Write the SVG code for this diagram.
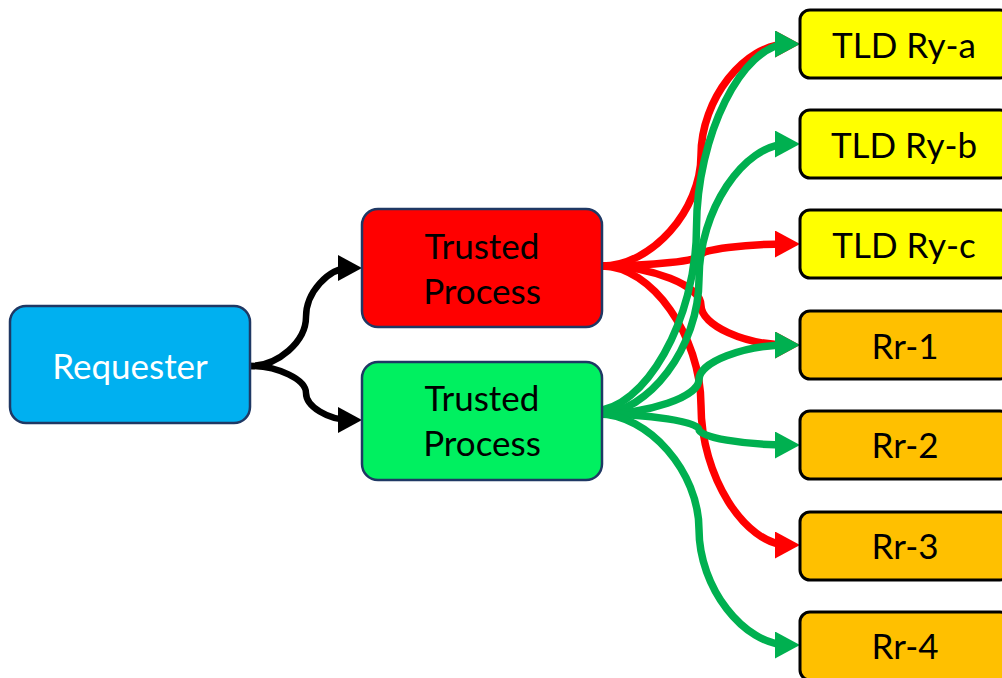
<svg xmlns="http://www.w3.org/2000/svg" width="1002" height="678" viewBox="0 0 1002 678">
  <style>
    .box { stroke-width: 2.5; }
    .proc { stroke: #1F3864; }
    .dest { stroke: #000000; stroke-width: 3; }
    .lbl { font-family: Lato, "Liberation Sans", sans-serif; font-size: 35px; text-anchor: middle; fill: #000000; }
    .wire { fill: none; stroke-linecap: butt; }
    .red { stroke: #FF0000; stroke-width: 7.5; }
    .green { stroke: #00B050; stroke-width: 7.5; }
    .black { stroke: #000000; stroke-width: 6.5; }
  </style>
  <defs>
    <marker id="arrow-red" markerUnits="userSpaceOnUse" viewBox="0 0 25 27" markerWidth="25" markerHeight="27" refX="13" refY="13.5" orient="auto">
      <path d="M0,0 L25,13.5 L0,27 z" fill="#FF0000"/>
    </marker>
    <marker id="arrow-green" markerUnits="userSpaceOnUse" viewBox="0 0 25 27" markerWidth="25" markerHeight="27" refX="13" refY="13.5" orient="auto">
      <path d="M0,0 L25,13.5 L0,27 z" fill="#00B050"/>
    </marker>
    <marker id="arrow-black" markerUnits="userSpaceOnUse" viewBox="0 0 24 26" markerWidth="24" markerHeight="26" refX="12" refY="13" orient="auto">
      <path d="M0,0 L24,13 L0,26 z" fill="#000000"/>
    </marker>
  </defs>

  <rect width="1002" height="678" fill="#FFFFFF"/>

  <!-- curved connectors -->
  <g id="connectors">
    <path class="wire black" marker-end="url(#arrow-black)" d="M250,366 C278,366 306,341.5 306,317 C306,292.5 328,268 350,268"/>
    <path class="wire black" marker-end="url(#arrow-black)" d="M250,366 C278,366 306,379.5 306,393 C306,406.5 328,420 350,420"/>

    <path class="wire red" marker-end="url(#arrow-red)" d="M602,266 C651.5,266 701,210.5 701,155 C701,99.5 744.5,44 788,44"/>
    <path class="wire red" marker-end="url(#arrow-red)" d="M602,266 C651.5,266 701,260.5 701,255 C701,249.5 744.5,244 788,244"/>
    <path class="wire red" marker-end="url(#arrow-red)" d="M602,266 C651.5,266 701,285.75 701,305.5 C701,325.25 744.5,345 788,345"/>
    <path class="wire red" marker-end="url(#arrow-red)" d="M602,266 C651.5,266 701,335.75 701,405.5 C701,475.25 744.5,545 788,545"/>

    <path class="wire green" marker-end="url(#arrow-green)" d="M593,411 C644.75,411 696.5,319.25 696.5,227.5 C696.5,135.75 742.25,44 788,44"/>
    <path class="wire green" marker-end="url(#arrow-green)" d="M598,414 C648.5,414 699,347.25 699,279 C699,210.75 743.5,144 788,144"/>
    <path class="wire green" marker-end="url(#arrow-green)" d="M598,414 C648.5,414 699,396.75 699,379.5 C699,362.25 743.5,345 788,345"/>
    <path class="wire green" marker-end="url(#arrow-green)" d="M598,414 C648.5,414 699,421.75 699,429.5 C699,437.25 743.5,445 788,445"/>
    <path class="wire green" marker-end="url(#arrow-green)" d="M598,414 C648.5,414 699,471.75 699,529.5 C699,587.25 743.5,645 788,645"/>
  </g>

  <g id="requester">
    <rect class="box proc" x="10" y="306" width="240" height="117" rx="16" fill="#00B0F0"/>
    <text class="lbl" x="130" y="379" style="fill:#FFFFFF">Requester</text>
  </g>

  <g id="trusted-red">
    <rect class="box proc" x="362" y="209" width="240" height="118" rx="16" fill="#FF0000"/>
    <text class="lbl" x="482" y="259">Trusted</text>
    <text class="lbl" x="482" y="304">Process</text>
  </g>

  <g id="trusted-green">
    <rect class="box proc" x="362" y="362" width="240" height="118" rx="16" fill="#00F060"/>
    <text class="lbl" x="482" y="411">Trusted</text>
    <text class="lbl" x="482" y="456">Process</text>
  </g>

  <g id="tld-ry-a">
    <rect class="box dest" x="800" y="10" width="210" height="68" rx="10" fill="#FFFF00"/>
    <text class="lbl" x="904" y="58">TLD Ry-a</text>
  </g>
  <g id="tld-ry-b">
    <rect class="box dest" x="800" y="110" width="210" height="68" rx="10" fill="#FFFF00"/>
    <text class="lbl" x="904" y="158">TLD Ry-b</text>
  </g>
  <g id="tld-ry-c">
    <rect class="box dest" x="800" y="210" width="210" height="68" rx="10" fill="#FFFF00"/>
    <text class="lbl" x="904" y="258">TLD Ry-c</text>
  </g>
  <g id="rr-1">
    <rect class="box dest" x="800" y="311" width="210" height="68" rx="10" fill="#FFC000"/>
    <text class="lbl" x="905" y="359">Rr-1</text>
  </g>
  <g id="rr-2">
    <rect class="box dest" x="800" y="411" width="210" height="68" rx="10" fill="#FFC000"/>
    <text class="lbl" x="905" y="458">Rr-2</text>
  </g>
  <g id="rr-3">
    <rect class="box dest" x="800" y="512" width="210" height="68" rx="10" fill="#FFC000"/>
    <text class="lbl" x="905" y="559">Rr-3</text>
  </g>
  <g id="rr-4">
    <rect class="box dest" x="800" y="612" width="210" height="68" rx="10" fill="#FFC000"/>
    <text class="lbl" x="905" y="659">Rr-4</text>
  </g>
</svg>
